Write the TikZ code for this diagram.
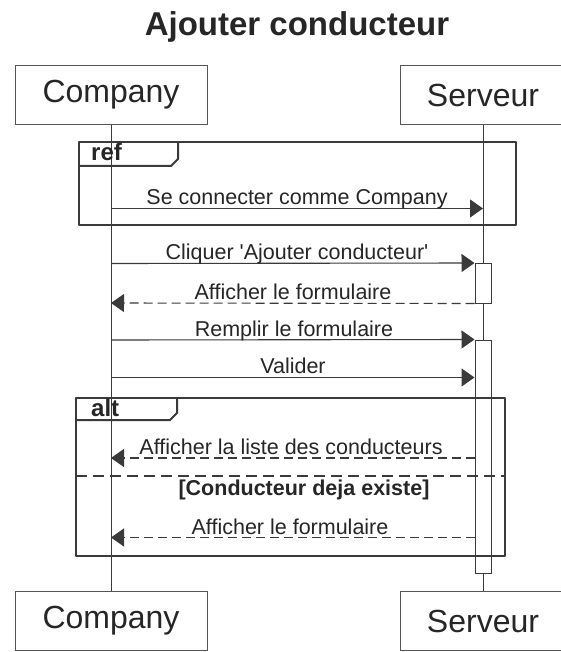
\documentclass[tikz,border=0pt]{standalone}
\usepackage{fontspec}
\setmainfont{Liberation Sans}
\usetikzlibrary{arrows.meta}
\definecolor{ink}{HTML}{262626}
\definecolor{linegray}{HTML}{3A3A3A}
\definecolor{boxgray}{HTML}{555555}

\begin{document}
\begin{tikzpicture}[x=1pt,y=-1pt,
  participant/.style={draw=boxgray,line width=1pt,fill=white,minimum height=59pt,
    inner sep=0pt,font=\fontsize{32}{36}\selectfont,text=ink},
  lifeline/.style={draw=linegray,line width=1pt},
  activation/.style={draw=linegray,line width=1pt,fill=white,minimum width=16pt,inner sep=0pt},
  frame/.style={draw=linegray,line width=2pt,line join=round},
  framelabel/.style={font=\bfseries\fontsize{24}{26}\selectfont,text=ink,anchor=base west,inner sep=0pt},
  msg/.style={draw=linegray,line width=1.1pt,-{Triangle[length=13pt,width=18pt]}},
  reply/.style={msg,dash pattern=on 9pt off 5pt},
  msglabel/.style={font=\fontsize{21.5}{24}\selectfont,text=ink,anchor=base,inner sep=0pt},
  guard/.style={font=\bfseries\fontsize{21.5}{24}\selectfont,text=ink,anchor=base,inner sep=0pt}
]
\useasboundingbox[fill=white] (0,0) rectangle (560,652);

% title
\node[font=\bfseries\fontsize{33}{36}\selectfont,text=ink,anchor=base] (title) at (297,36) {Ajouter conducteur};

% participants
\node[participant,minimum width=192pt] (compTop) at (111,95) {Company};
\node[participant,minimum width=166pt] (servTop) at (483,95) {Serveur};
\node[participant,minimum width=192pt] (compBot) at (111,621) {Company};
\node[participant,minimum width=166pt] (servBot) at (483,621) {Serveur};

% lifelines
\draw[lifeline] (compTop.south) -- (compBot.north);
\draw[lifeline] (servTop.south) -- (servBot.north);

% activation bars on the server
\node[activation,minimum height=39.5pt] (act1) at (483,283.25) {};
\node[activation,minimum height=233pt] (act2) at (483,456.5) {};

% points on the lifelines
\coordinate (c1) at (111,208.5);
\coordinate (s1) at (483,208.5);
\coordinate (c2) at (111,263.5);
\coordinate (c3) at (111,303);
\coordinate (c4) at (111,340);
\coordinate (c5) at (111,377.5);
\coordinate (c6) at (111,458);
\coordinate (c7) at (111,537.5);

% ref fragment
\draw[frame] (79,142) rectangle (516,225);
\draw[frame] (79,166) -- (171,166) -- (178,159) -- (178,142);
\node[framelabel] (refLabel) at (91,161) {ref};

% alt fragment
\draw[frame] (76,398) rectangle (505,556);
\draw[frame] (76,420) -- (170,420) -- (177,413) -- (177,398);
\node[framelabel] (altLabel) at (91,416) {alt};
\draw[draw=linegray,line width=2pt,dash pattern=on 11pt off 6pt] (76,475.5) -- (505,475.5);
\node[guard] (guardText) at (304,495) {[Conducteur deja existe]};

% messages
\draw[msg] (c1) -- (s1);
\node[msglabel] at (297,204.5) {Se connecter comme Company};

\draw[msg] (c2) -- (act1.north west);
\node[msglabel] at (297,259.5) {Cliquer \textquotesingle Ajouter conducteur\textquotesingle};

\draw[reply] (act1.south west) -- (c3);
\node[msglabel] at (293,299) {Afficher le formulaire};

\draw[msg] (c4) -- (act2.north west);
\node[msglabel] at (294,336) {Remplir le formulaire};

\draw[msg] (c5) -- (act2.west |- c5);
\node[msglabel] at (293,373.5) {Valider};

\draw[reply] (act2.west |- c6) -- (c6);
\node[msglabel] at (291,454) {Afficher la liste des conducteurs};

\draw[reply] (act2.west |- c7) -- (c7);
\node[msglabel] at (290,534) {Afficher le formulaire};
\end{tikzpicture}
\end{document}
